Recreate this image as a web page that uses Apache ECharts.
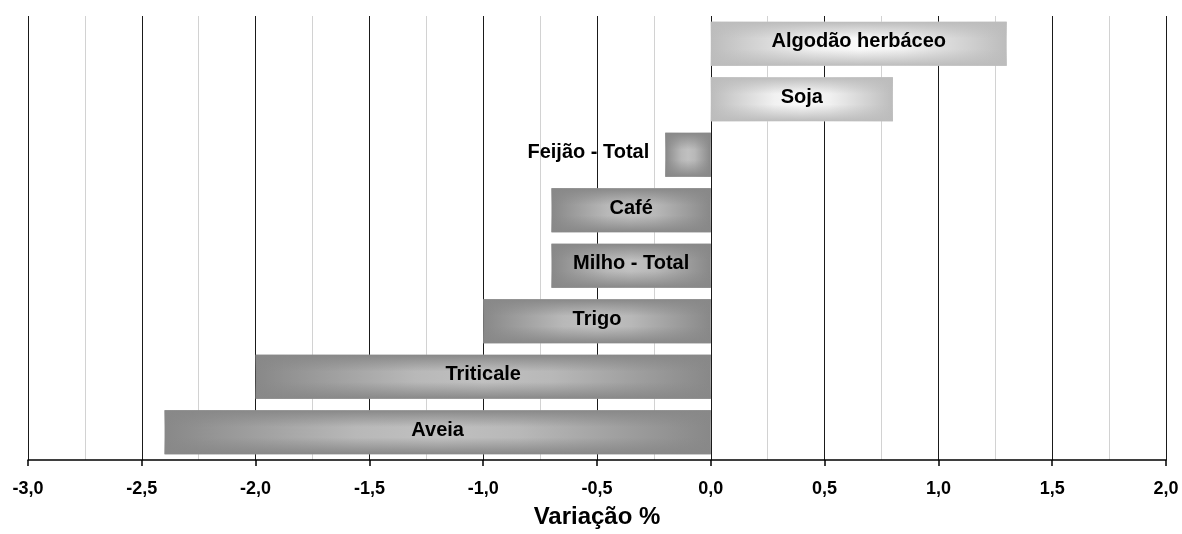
<!DOCTYPE html>
<html>
<head>
<meta charset="utf-8">
<title>Variação %</title>
<script src="https://cdn.jsdelivr.net/npm/echarts@6/dist/echarts.min.js"></script>
<style>
  html, body { margin: 0; padding: 0; background: #fff; }
  #chart { width: 1182px; height: 534px; }
</style>
</head>
<body>
<div id="chart"></div>
<script>
// culturas, de cima para baixo
const categories = ['Algodão herbáceo', 'Soja', 'Feijão - Total', 'Café', 'Milho - Total', 'Trigo', 'Triticale', 'Aveia'];
const values = [1.3, 0.8, -0.2, -0.7, -0.7, -1.0, -2.0, -2.4];

const FONT = '"Liberation Sans", Arial, sans-serif';

// tons de cinza (borda -> centro)
const shades = {
  pos: { edge: [188, 188, 188], mid: [250, 250, 250] },
  neg: { edge: [136, 136, 136], mid: [192, 192, 192] }
};

function rgba(c, a) {
  return 'rgba(' + c.join(',') + ',' + a + ')';
}

function mix(a, b, t) {
  return a.map((x, i) => Math.round(x + (b[i] - x) * t));
}

// gradiente horizontal: bordas escuras, centro claro
function hGrad(s) {
  return new echarts.graphic.LinearGradient(0, 0, 1, 0, [
    { offset: 0, color: rgba(s.edge, 1) },
    { offset: 0.12, color: rgba(mix(s.edge, s.mid, 0.3), 1) },
    { offset: 0.35, color: rgba(mix(s.edge, s.mid, 0.85), 1) },
    { offset: 0.5, color: rgba(s.mid, 1) },
    { offset: 0.65, color: rgba(mix(s.edge, s.mid, 0.85), 1) },
    { offset: 0.88, color: rgba(mix(s.edge, s.mid, 0.3), 1) },
    { offset: 1, color: rgba(s.edge, 1) }
  ]);
}

// sombra vertical por cima (topo e base escuros)
function vGrad(s) {
  return new echarts.graphic.LinearGradient(0, 0, 0, 1, [
    { offset: 0, color: rgba(s.edge, 1) },
    { offset: 0.15, color: rgba(s.edge, 0.6) },
    { offset: 0.38, color: rgba(s.edge, 0) },
    { offset: 0.62, color: rgba(s.edge, 0) },
    { offset: 0.85, color: rgba(s.edge, 0.6) },
    { offset: 1, color: rgba(s.edge, 1) }
  ]);
}

const baseData = values.map(v => ({
  value: v,
  itemStyle: { color: hGrad(v >= 0 ? shades.pos : shades.neg) }
}));

const topData = values.map(v => {
  const item = {
    value: v,
    itemStyle: { color: vGrad(v >= 0 ? shades.pos : shades.neg) }
  };
  // barra curta demais: rótulo fora, à esquerda
  if (Math.abs(v) < 0.5) {
    item.label = { position: 'left', distance: 16 };
  }
  return item;
});

const chart = echarts.init(document.getElementById('chart'));
chart.setOption({
  animation: false,
  grid: { left: 28, right: 16, top: 16, bottom: 70 },
  xAxis: {
    type: 'value',
    min: -3,
    max: 2,
    interval: 0.5,
    name: 'Variação %',
    nameLocation: 'middle',
    nameGap: 45,
    nameTextStyle: { fontFamily: FONT, fontWeight: 'bold', fontSize: 24, color: '#000' },
    axisLine: { show: true, onZero: false, lineStyle: { color: '#000', width: 1.5 } },
    axisTick: { show: true, length: 6, lineStyle: { color: '#000', width: 1.5 } },
    axisLabel: {
      margin: 20,
      fontFamily: FONT,
      fontWeight: 'bold',
      fontSize: 18,
      color: '#000',
      formatter: v => v.toFixed(1).replace('.', ',')
    },
    splitLine: { show: true, lineStyle: { color: '#1a1a1a', width: 1 } },
    minorTick: { show: false, splitNumber: 2 },
    minorSplitLine: { show: true, lineStyle: { color: '#d2d2d2', width: 1 } }
  },
  yAxis: {
    type: 'category',
    inverse: true,
    data: categories,
    axisLine: { show: false },
    axisTick: { show: false },
    axisLabel: { show: false },
    splitLine: { show: false }
  },
  series: [
    {
      type: 'bar',
      data: baseData,
      barWidth: 44,
      barGap: '-100%',
      silent: true
    },
    {
      type: 'bar',
      data: topData,
      barWidth: 44,
      barGap: '-100%',
      label: {
        show: true,
        position: 'inside',
        offset: [0, -2],
        formatter: '{b}',
        fontFamily: FONT,
        fontWeight: 'bold',
        fontSize: 20,
        color: '#000'
      }
    }
  ]
});
window.addEventListener('resize', () => chart.resize());
</script>
</body>
</html>
